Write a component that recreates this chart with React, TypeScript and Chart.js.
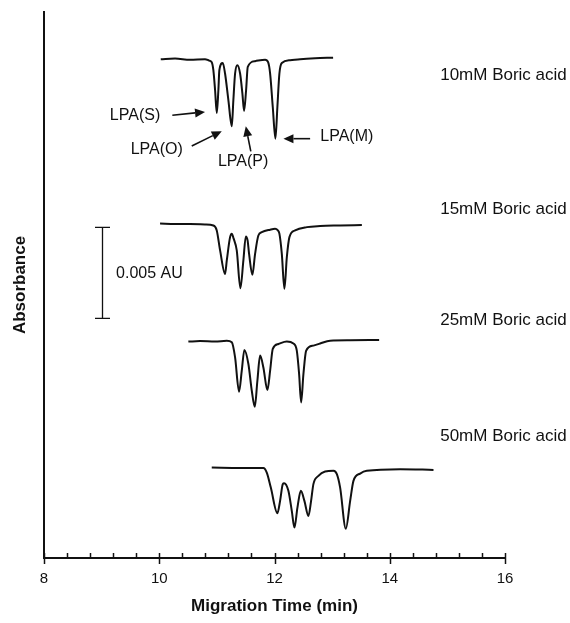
import React, { useEffect, useRef } from 'react';
import { Chart, registerables } from 'chart.js';

Chart.register(...registerables);

// ---------- data (x: migration time in min, y: absorbance in mAU, traces offset vertically) ----------
const xTickLabels = [8, 10, 12, 14, 16];
const xMinorStep = 0.4;

const traceNames = ['10mM Boric acid', '15mM Boric acid', '25mM Boric acid', '50mM Boric acid'];
const traceLabelY = [26.53, 19.15, 13.04, 6.71];

const trace10mM: [number, number][] = [
  [10.026, 27.41], [10.274, 27.44], [10.535, 27.38], [10.795, 27.41], [10.865, 27.33],
  [10.911, 27.24], [10.939, 26.8], [10.969, 25.7], [10.998, 24.45], [11.026, 25.7],
  [11.043, 26.8], [11.102, 27.2], [11.142, 26.62], [11.2, 25.15], [11.259, 23.72],
  [11.286, 25.15], [11.316, 26.62], [11.356, 27.08], [11.403, 26.62], [11.443, 25.52],
  [11.472, 24.56], [11.507, 25.7], [11.536, 26.98], [11.663, 27.3], [11.837, 27.38],
  [11.889, 27.24], [11.924, 26.62], [11.97, 24.78], [12.016, 23.04], [12.05, 24.78],
  [12.085, 26.62], [12.127, 27.2], [12.271, 27.35], [12.444, 27.41], [12.705, 27.46],
  [13.017, 27.49],
];

const trace15mM: [number, number][] = [
  [10.014, 18.38], [10.274, 18.35], [10.535, 18.35], [10.795, 18.33], [10.939, 18.27],
  [10.998, 18.0], [11.056, 16.9], [11.142, 15.61], [11.172, 16.35], [11.229, 17.63],
  [11.259, 17.82], [11.29, 17.56], [11.345, 16.9], [11.408, 14.82], [11.46, 16.35],
  [11.502, 17.67], [11.533, 17.45], [11.559, 16.71], [11.616, 15.56], [11.663, 16.71],
  [11.72, 17.72], [11.78, 17.9], [11.924, 18.04], [12.01, 18.09], [12.054, 18.02],
  [12.085, 17.82], [12.127, 16.71], [12.172, 14.79], [12.214, 16.53], [12.259, 17.63],
  [12.358, 18.0], [12.561, 18.18], [12.792, 18.24], [13.139, 18.27], [13.516, 18.3],
];

const trace25mM: [number, number][] = [
  [10.505, 11.89], [10.708, 11.92], [10.969, 11.89], [11.172, 11.94], [11.259, 11.85],
  [11.316, 11.02], [11.385, 9.14], [11.432, 10.29], [11.477, 11.43], [11.547, 10.66],
  [11.606, 9.19], [11.658, 8.31], [11.703, 9.74], [11.75, 11.12], [11.807, 10.47],
  [11.877, 9.23], [11.924, 10.29], [11.97, 11.49], [12.068, 11.76], [12.214, 11.89],
  [12.328, 11.79], [12.387, 11.39], [12.427, 10.11], [12.462, 8.55], [12.502, 10.11],
  [12.549, 11.39], [12.675, 11.67], [12.792, 11.79], [12.965, 11.94], [13.313, 11.96],
  [13.816, 11.98],
];

const trace50mM: [number, number][] = [
  [10.911, 4.97], [11.403, 4.95], [11.807, 4.94], [11.866, 4.69], [11.936, 3.87],
  [12.05, 2.46], [12.097, 3.14], [12.144, 4.06], [12.167, 4.11], [12.241, 3.69],
  [12.3, 2.59], [12.346, 1.67], [12.398, 2.77], [12.457, 3.69], [12.519, 3.14],
  [12.589, 2.31], [12.635, 3.14], [12.675, 4.06], [12.762, 4.51], [12.878, 4.75],
  [13.023, 4.79], [13.082, 4.61], [13.139, 3.87], [13.238, 1.61], [13.313, 3.14],
  [13.37, 4.24], [13.486, 4.64], [13.602, 4.79], [14.181, 4.88], [14.759, 4.84],
];

// peak annotations: label, label anchor, arrow start, arrow tip (data units)
const peakLabels = ['LPA(S)', 'LPA(O)', 'LPA(P)', 'LPA(M)'];
const peakLabelX = [9.58, 9.957, 11.455, 13.255];
const peakLabelY = [24.29, 22.45, 21.76, 23.13];
const arrowFromX = [10.227, 10.564, 11.589, 12.618];
const arrowFromY = [24.33, 22.64, 22.34, 23.04];
const arrowToX = [10.795, 11.085, 11.502, 12.155];
const arrowToY = [24.51, 23.45, 23.72, 23.04];

// scale bar: 0.005 AU = 5 mAU
const scaleBarX = 9.0;
const scaleBarLow = 13.17;
const scaleBarHigh = 18.17;
const scaleBarText = '0.005 AU';
const scaleBarTextX = 9.25;

const traceLabelX = 14.875;

const FONT = "'Liberation Sans', Arial, Helvetica, sans-serif";
const INK = '#111111';

const overlayPlugin = {
  id: 'overlay',
  afterDraw(chart: any) {
    const { ctx, scales } = chart;
    const xs = scales.x;
    const ys = scales.y;
    const axisY = chart.chartArea.bottom;
    ctx.save();
    ctx.strokeStyle = INK;
    ctx.fillStyle = INK;

    // x-axis tick marks: minor point inward, major cross the axis
    ctx.lineWidth = 1.5;
    const nSteps = Math.round((xTickLabels[xTickLabels.length - 1] - xTickLabels[0]) / xMinorStep);
    for (let i = 0; i <= nSteps; i++) {
      const v = xTickLabels[0] + i * xMinorStep;
      const isMajor = xTickLabels.some((t) => Math.abs(t - v) < 1e-6);
      const px = Math.round(xs.getPixelForValue(v)) + 0.5;
      ctx.beginPath();
      if (isMajor) {
        ctx.moveTo(px, axisY - 5);
        ctx.lineTo(px, axisY + 6);
      } else {
        ctx.moveTo(px, axisY - 5);
        ctx.lineTo(px, axisY);
      }
      ctx.stroke();
    }

    // scale bar
    const sbx = Math.round(xs.getPixelForValue(scaleBarX)) + 0.5;
    const sbTop = ys.getPixelForValue(scaleBarHigh);
    const sbBot = ys.getPixelForValue(scaleBarLow);
    ctx.lineWidth = 1.3;
    ctx.beginPath();
    ctx.moveTo(sbx, sbTop);
    ctx.lineTo(sbx, sbBot);
    ctx.moveTo(sbx - 7.5, sbTop);
    ctx.lineTo(sbx + 7.5, sbTop);
    ctx.moveTo(sbx - 7.5, sbBot);
    ctx.lineTo(sbx + 7.5, sbBot);
    ctx.stroke();
    ctx.font = `16px ${FONT}`;
    ctx.textAlign = 'left';
    ctx.textBaseline = 'middle';
    ctx.fillText(scaleBarText, xs.getPixelForValue(scaleBarTextX), (sbTop + sbBot) / 2 + 1);

    // trace labels
    ctx.font = `17px ${FONT}`;
    traceNames.forEach((name, i) => {
      ctx.fillText(name, xs.getPixelForValue(traceLabelX), ys.getPixelForValue(traceLabelY[i]));
    });

    // peak labels and arrows
    ctx.font = `16px ${FONT}`;
    ctx.textAlign = 'center';
    peakLabels.forEach((lab, i) => {
      ctx.fillText(lab, xs.getPixelForValue(peakLabelX[i]), ys.getPixelForValue(peakLabelY[i]));
      const x0 = xs.getPixelForValue(arrowFromX[i]);
      const y0 = ys.getPixelForValue(arrowFromY[i]);
      const x1 = xs.getPixelForValue(arrowToX[i]);
      const y1 = ys.getPixelForValue(arrowToY[i]);
      const ang = Math.atan2(y1 - y0, x1 - x0);
      const headLen = 10;
      const headHalf = 4.5;
      const bx = x1 - headLen * Math.cos(ang);
      const by = y1 - headLen * Math.sin(ang);
      ctx.lineWidth = 1.6;
      ctx.beginPath();
      ctx.moveTo(x0, y0);
      ctx.lineTo(bx, by);
      ctx.stroke();
      ctx.beginPath();
      ctx.moveTo(x1, y1);
      ctx.lineTo(bx + headHalf * Math.sin(ang), by - headHalf * Math.cos(ang));
      ctx.lineTo(bx - headHalf * Math.sin(ang), by + headHalf * Math.cos(ang));
      ctx.closePath();
      ctx.fill();
    });
    ctx.restore();
  },
};

const toPoints = (arr: [number, number][]) => arr.map(([x, y]) => ({ x, y }));

export default function App() {
  const canvasRef = useRef<HTMLCanvasElement | null>(null);

  useEffect(() => {
    if (!canvasRef.current) return;
    const traces = [trace10mM, trace15mM, trace25mM, trace50mM];
    const chart = new Chart(canvasRef.current, {
      type: 'line',
      data: {
        datasets: traces.map((t, i) => ({
          label: traceNames[i],
          data: toPoints(t),
          borderColor: INK,
          borderWidth: 2,
          pointRadius: 0,
          fill: false,
          cubicInterpolationMode: 'monotone' as const,
        })),
      },
      options: {
        responsive: false,
        animation: false,
        devicePixelRatio: 1,
        layout: { padding: { left: 0, right: 65, top: 12, bottom: 0 } },
        plugins: {
          legend: { display: false },
          tooltip: { enabled: false },
        },
        scales: {
          x: {
            type: 'linear',
            min: xTickLabels[0],
            max: xTickLabels[xTickLabels.length - 1],
            afterBuildTicks: (scale: any) => {
              scale.ticks = xTickLabels.map((v) => ({ value: v }));
            },
            afterFit: (scale: any) => {
              scale.height = 65;
            },
            grid: { display: false, drawTicks: false },
            border: { display: true, color: INK, width: 2 },
            ticks: {
              color: INK,
              font: { family: FONT, size: 15 },
              padding: 12,
              maxRotation: 0,
              autoSkip: false,
            },
            title: {
              display: true,
              text: 'Migration Time (min)',
              color: INK,
              font: { family: FONT, size: 17, weight: 'bold' },
              padding: { top: 0, bottom: 6 },
            },
          },
          y: {
            type: 'linear',
            min: 0,
            max: 30,
            afterFit: (scale: any) => {
              scale.width = 44;
            },
            grid: { display: false, drawTicks: false },
            border: { display: true, color: INK, width: 2 },
            ticks: { display: false },
            title: {
              display: true,
              text: 'Absorbance',
              color: INK,
              font: { family: FONT, size: 17, weight: 'bold' },
              padding: { top: 10, bottom: 0 },
            },
          },
        },
      },
      plugins: [overlayPlugin],
    });
    return () => chart.destroy();
  }, []);

  return (
    <div style={{ position: 'absolute', left: 0, top: 0, width: 570, height: 623, background: '#fff' }}>
      <canvas ref={canvasRef} width={570} height={623} style={{ display: 'block' }} />
    </div>
  );
}
